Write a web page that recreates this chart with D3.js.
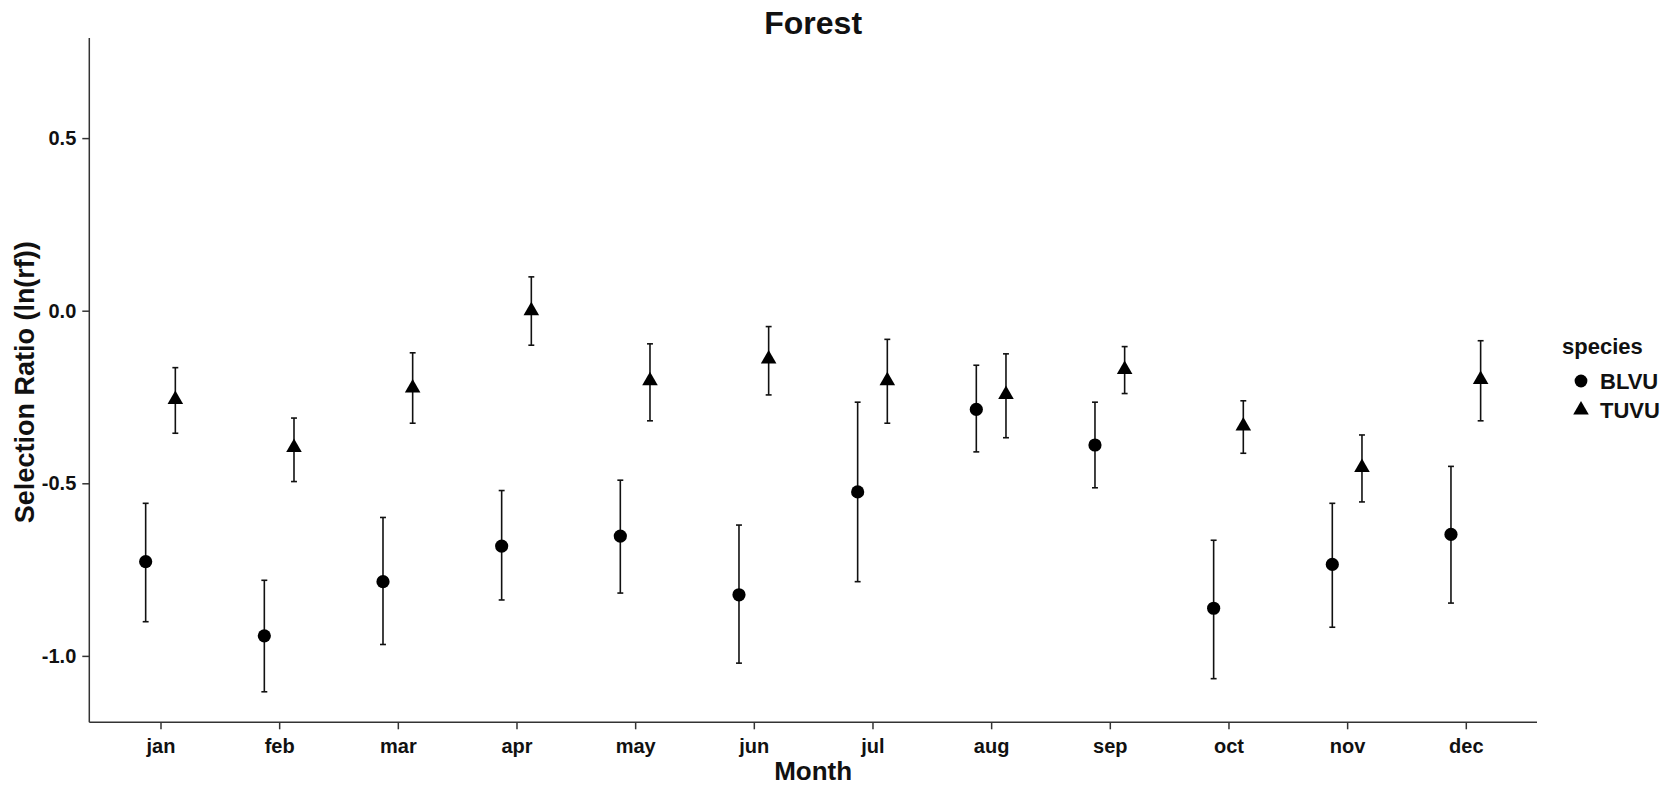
<!DOCTYPE html>
<html>
<head>
<meta charset="utf-8">
<script src="https://cdn.jsdelivr.net/npm/d3@7"></script>
<style>
  html, body { margin: 0; padding: 0; background: #fff; }
  svg { display: block; }
  text { font-family: "Liberation Sans", Arial, sans-serif; font-weight: bold; fill: #111; }
</style>
</head>
<body>
<svg id="chart" width="1677" height="787"></svg>
<script>
// Monthly forest selection ratios, ln(rf), with confidence limits
const months = ["jan", "feb", "mar", "apr", "may", "jun", "jul", "aug", "sep", "oct", "nov", "dec"];
const speciesNames = ["BLVU", "TUVU"];

const blvuMean  = [-0.727, -0.942, -0.785, -0.682, -0.653, -0.823, -0.525, -0.286, -0.389, -0.862, -0.735, -0.648];
const blvuLower = [-0.901, -1.104, -0.967, -0.838, -0.818, -1.021, -0.785, -0.409, -0.513, -1.066, -0.917, -0.847];
const blvuUpper = [-0.558, -0.781, -0.599, -0.521, -0.491, -0.621, -0.265, -0.158, -0.265, -0.665, -0.558, -0.451];

const tuvuMean  = [-0.257, -0.396, -0.224, 0.000, -0.203, -0.140, -0.203, -0.243, -0.170, -0.334, -0.454, -0.199];
const tuvuLower = [-0.355, -0.495, -0.326, -0.100, -0.319, -0.244, -0.326, -0.368, -0.240, -0.413, -0.554, -0.319];
const tuvuUpper = [-0.165, -0.311, -0.122, 0.098, -0.096, -0.046, -0.083, -0.125, -0.104, -0.261, -0.360, -0.087];

const yTicks = [-1.0, -0.5, 0.0, 0.5];

const rows = [];
months.forEach((m, i) => {
  rows.push({ month: m, species: "BLVU", mean: blvuMean[i], lo: blvuLower[i], hi: blvuUpper[i] });
  rows.push({ month: m, species: "TUVU", mean: tuvuMean[i], lo: tuvuLower[i], hi: tuvuUpper[i] });
});

const svg = d3.select("#chart");
const panel = { left: 89.3, right: 1537, top: 38, bottom: 722.3 };

const x = d3.scalePoint().domain(months).range([panel.left, panel.right]).padding(0.6);
const y = d3.scaleLinear().domain([-1.1924, 0.790]).range([panel.bottom, panel.top]);
const dodge = d3.scalePoint().domain(speciesNames).range([-0.125, 0.125]);
const px = d => x(d.month) + dodge(d.species) * x.step();

const triangle = d3.symbol().type(d3.symbolTriangle).size(105);

// axes
const xAxis = svg.append("g")
  .attr("transform", `translate(0,${panel.bottom})`)
  .call(d3.axisBottom(x).tickSize(7).tickPadding(9.5).tickSizeOuter(0));
const yAxis = svg.append("g")
  .attr("transform", `translate(${panel.left},0)`)
  .call(d3.axisLeft(y).tickValues(yTicks).tickFormat(d => d.toFixed(1)).tickSize(7).tickPadding(6).tickSizeOuter(0));

[xAxis, yAxis].forEach(g => {
  g.select(".domain").attr("stroke", "#333").attr("stroke-width", 1.5);
  g.selectAll(".tick line").attr("stroke", "#333").attr("stroke-width", 1.5);
  g.selectAll(".tick text").attr("fill", "#111").style("font-size", "20px")
    .style("font-family", "'Liberation Sans', Arial, sans-serif").style("font-weight", "bold");
});
// domain lines span the full panel
xAxis.select(".domain").attr("d", `M${panel.left},0H${panel.right}`);
yAxis.select(".domain").attr("d", `M0,${panel.top}V${panel.bottom}`);

// error bars
const bars = svg.append("g").selectAll("g").data(rows).join("g")
  .attr("stroke", "#111").attr("stroke-width", 1.6).attr("fill", "none");
const capHalf = 0.025 * x.step();
bars.append("line")
  .attr("x1", px).attr("x2", px)
  .attr("y1", d => y(d.lo)).attr("y2", d => y(d.hi));
bars.append("line")
  .attr("x1", d => px(d) - capHalf).attr("x2", d => px(d) + capHalf)
  .attr("y1", d => y(d.hi)).attr("y2", d => y(d.hi));
bars.append("line")
  .attr("x1", d => px(d) - capHalf).attr("x2", d => px(d) + capHalf)
  .attr("y1", d => y(d.lo)).attr("y2", d => y(d.lo));

// points
const pts = svg.append("g");
pts.selectAll("circle").data(rows.filter(d => d.species === "BLVU")).join("circle")
  .attr("cx", px).attr("cy", d => y(d.mean)).attr("r", 6.6).attr("fill", "#000");
pts.selectAll("path").data(rows.filter(d => d.species === "TUVU")).join("path")
  .attr("d", triangle)
  .attr("transform", d => `translate(${px(d)},${y(d.mean)})`)
  .attr("fill", "#000");

// titles
svg.append("text").attr("x", (panel.left + panel.right) / 2).attr("y", 34)
  .attr("text-anchor", "middle").style("font-size", "32px").text("Forest");
svg.append("text").attr("x", (panel.left + panel.right) / 2).attr("y", 780)
  .attr("text-anchor", "middle").style("font-size", "26px").text("Month");
svg.append("text")
  .attr("transform", `translate(34,${(panel.top + panel.bottom) / 2 + 2}) rotate(-90)`)
  .attr("text-anchor", "middle").style("font-size", "27px").text("Selection Ratio (ln(rf))");

// legend
const legend = svg.append("g");
legend.append("text").attr("x", 1562).attr("y", 354).style("font-size", "22px").text("species");
const legendKeys = legend.selectAll("g.key").data(speciesNames).join("g")
  .attr("class", "key")
  .attr("transform", (d, i) => `translate(0,${381 + i * 29})`);
legendKeys.filter(d => d === "BLVU").append("circle").attr("cx", 1581).attr("cy", 0).attr("r", 6.4).attr("fill", "#000");
legendKeys.filter(d => d === "TUVU").append("path").attr("d", triangle)
  .attr("transform", "translate(1581,0)").attr("fill", "#000");
legendKeys.append("text").attr("x", 1600).attr("y", 8).style("font-size", "22px").text(d => d);
</script>
</body>
</html>
